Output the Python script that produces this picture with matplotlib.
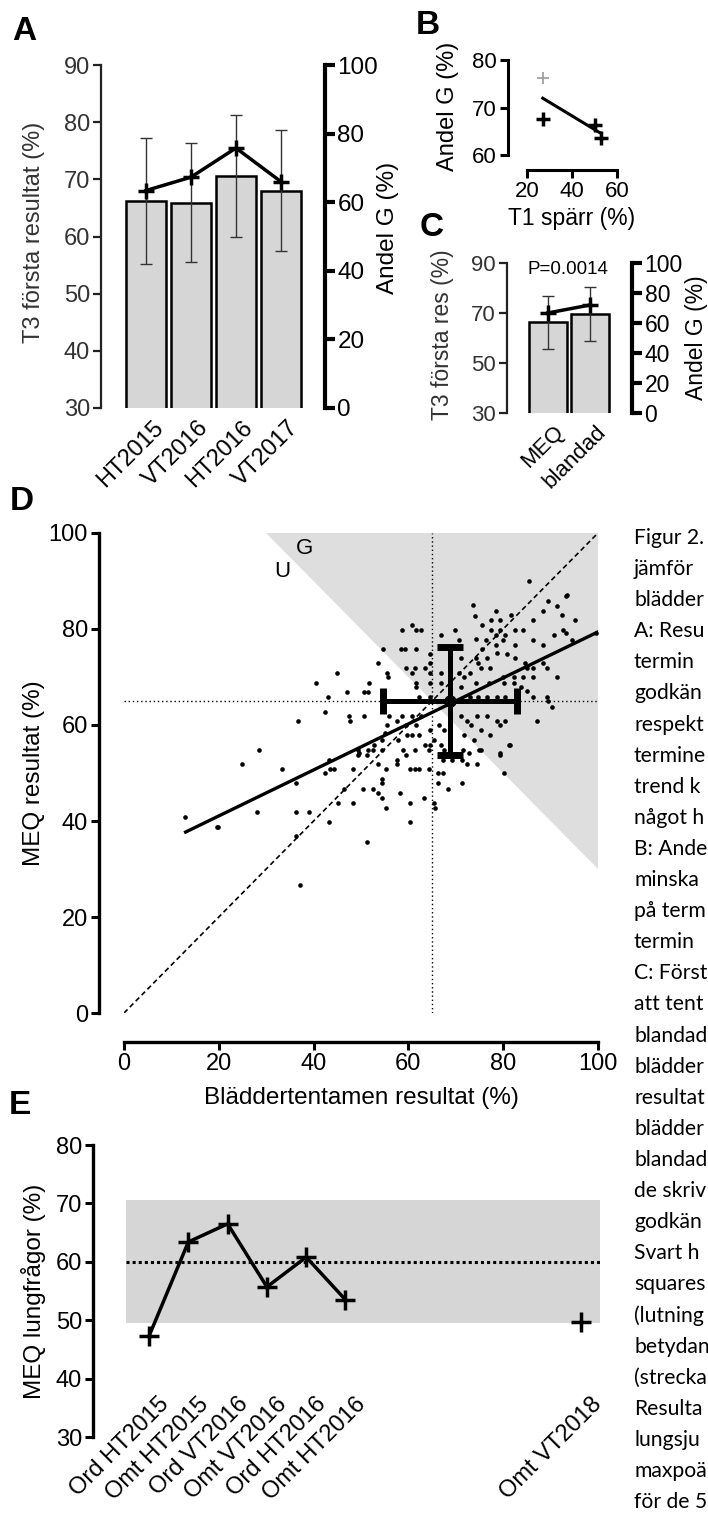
import numpy as np
import matplotlib
matplotlib.use('Agg')
import matplotlib.pyplot as plt
from matplotlib.transforms import ScaledTranslation

plt.rcParams['font.family'] = ['Liberation Sans', 'DejaVu Sans']

W, H = 708, 1526

# ---- A: T3 first results per term ----
terms_a = ['HT2015', 'VT2016', 'HT2016', 'VT2017']
t3_mean = [66.2, 65.9, 70.6, 68.0]
t3_sd = [11.0, 10.4, 10.7, 10.6]
andel_g_a = [63.4, 67.3, 75.8, 66.0]

# ---- B: share passed vs T1 block ----
t1_sparr = [53, 27, 27, 50]
andel_g_b = [63.6, 67.6, 76.2, 66.4]
b_grey = [False, False, True, False]

# ---- C: MEQ vs mixed exam ----
groups_c = ['MEQ', 'blandad']
c_mean = [66.4, 69.6]
c_sd = [10.6, 10.8]
andel_g_c = [66.7, 72.0]
p_text = 'P=0.0014'

# ---- D: MEQ vs open-book exam ----
bladder = [85.4, 73.6, 78.4, 74.0, 75.6, 77.5, 79.3, 81.6, 86.3, 88.5, 89.5, 91.4,
           92.3, 93.2, 90.7, 92.7, 93.2, 60.8, 58.7, 61.5, 62.7, 66.8, 69.9, 70.6,
           74.2, 76.3, 77.5, 78.4, 79.4, 80.0, 82.4, 84.2, 80.3, 86.3, 88.4, 82.4,
           78.5, 75.6, 54.7, 58.5, 59.2, 61.6, 64.6, 53.5, 64.6, 71.0, 74.2, 74.7,
           75.4, 76.5, 77.2, 78.6, 80.7, 82.5, 84.5, 85.1, 86.3, 88.4, 89.3, 91.4,
           59.4, 61.3, 63.5, 55.5, 55.6, 60.8, 64.5, 66.9, 70.6, 71.7, 73.1, 74.2,
           77.0, 80.0, 82.3, 84.2, 86.3, 80.1, 82.3, 83.7, 44.9, 40.6, 51.6, 61.5,
           61.7, 64.5, 66.9, 71.1, 47.0, 50.6, 51.5, 62.2, 64.6, 73.1, 74.7, 76.6,
           78.7, 80.3, 85.1, 86.3, 89.3, 89.5, 90.4, 43.0, 42.5, 36.8, 28.4, 47.4,
           47.7, 50.6, 55.9, 58.7, 60.8, 62.7, 57.6, 59.4, 61.5, 55.5, 64.5, 66.4,
           67.5, 71.0, 72.4, 73.2, 74.5, 76.6, 78.7, 80.3, 79.3, 87.2, 75.4, 77.3,
           71.7, 73.8, 57.9, 59.6, 60.8, 62.2, 64.6, 65.3, 66.8, 81.4, 74.9, 67.5,
           71.6, 72.8, 79.4, 54.4, 55.1, 52.7, 49.5, 51.5,
           24.8, 33.3, 12.9, 19.6, 19.9, 28.1, 36.3, 36.3, 39.1, 36.3, 37.1, 42.4,
           43.5, 44.3, 43.3, 43.3, 46.4, 45.2, 48.4, 48.4, 50.4, 52.5, 53.5, 54.4,
           51.3, 55.3, 55.3, 54.4, 54.4, 49.4, 49.4, 51.3, 52.5, 53.5, 54.4, 57.5,
           57.5, 58.2, 59.5, 60.3, 61.4, 62.3, 60.3, 60.3, 63.3, 64.4, 64.4, 63.6,
           65.4, 65.6, 66.3, 67.4, 66.3, 68.3, 71.4, 67.4, 69.3, 71.4, 72.3, 74.4,
           75.3, 79.3, 80.2, 81.3, 58.9, 61.4,
           93.5, 95.1, 94.5, 99.5]
meq = [89.9, 84.9, 83.8, 82.8, 80.9, 81.8, 81.8, 82.9, 81.9, 83.8, 85.9, 84.8,
       82.9, 86.8, 78.8, 79.8, 79.1, 80.9, 79.8, 79.8, 79.8, 78.8, 79.8, 77.7,
       77.9, 77.7, 79.8, 78.8, 79.8, 77.7, 79.8, 79.8, 78.8, 77.7, 76.7, 76.7,
       76.7, 75.8, 75.8, 75.8, 75.8, 75.8, 74.8, 72.9, 72.9, 73.9, 73.9, 72.9,
       71.8, 73.9, 71.8, 74.9, 74.7, 73.9, 72.9, 71.8, 71.8, 72.9, 71.8, 70.0,
       71.8, 71.8, 71.8, 70.8, 70.0, 70.8, 70.8, 70.8, 70.8, 70.0, 70.8, 68.8,
       68.8, 70.0, 70.0, 70.0, 70.0, 68.8, 68.8, 68.0, 70.8, 68.8, 68.8, 68.8,
       67.9, 68.8, 68.8, 68.0, 66.8, 66.8, 66.8, 65.9, 65.9, 65.9, 65.9, 65.9,
       65.9, 65.9, 67.0, 65.9, 65.9, 64.9, 63.8, 65.9, 62.8, 60.9, 54.8, 61.8,
       60.9, 61.8, 61.9, 61.8, 61.8, 61.8, 60.9, 59.9, 59.9, 59.9, 59.0, 59.9,
       59.0, 61.8, 60.9, 59.9, 61.8, 61.8, 60.9, 60.9, 59.9, 60.9, 59.0, 57.9,
       57.9, 56.9, 56.9, 57.9, 57.9, 57.9, 55.9, 56.9, 55.9, 55.9, 54.8, 54.8,
       54.8, 54.1, 54.1, 56.9, 58.3, 55.9, 54.1, 54.8,
       51.8, 50.8, 40.8, 38.7, 38.7, 41.8, 47.9, 41.8, 41.8, 36.8, 26.7, 50.0,
       50.8, 50.8, 52.7, 39.7, 46.7, 43.8, 50.8, 43.8, 46.7, 46.7, 45.8, 44.7,
       35.7, 50.8, 42.8, 48.7, 47.9, 54.8, 53.8, 53.8, 54.8, 51.8, 54.8, 52.7,
       51.8, 45.8, 53.8, 50.8, 50.8, 50.8, 43.8, 39.7, 44.7, 50.8, 54.8, 55.9,
       43.7, 42.7, 50.0, 50.0, 47.9, 46.7, 47.9, 52.7, 52.7, 52.7, 51.8, 51.8,
       54.8, 53.8, 50.0, 55.9, 54.8, 54.8,
       87.1, 81.9, 77.7, 79.2]
d_mean = (68.8, 65.0)
d_sd = (14.1, 11.2)
fit_x = [13.0, 100.0]
fit_y = [37.7, 79.4]
pass_level = 65

# ---- E: MEQ lung questions per exam ----
exams_e = ['Ord HT2015', 'Omt HT2015', 'Ord VT2016', 'Omt VT2016', 'Ord HT2016',
           'Omt HT2016', '', '', '', '', '', 'Omt VT2018']
lung_pct = [47.3, 63.4, 66.5, 55.7, 60.8, 53.5, np.nan, np.nan, np.nan, np.nan,
            np.nan, 49.7]
band_lo, band_hi, band_mid = 49.5, 70.5, 60.0

# caption column, only the part visible at the right edge
caption = ['Figur 2.', 'jämför', 'blädder', 'A: Resu', 'termin', 'godkän',
           'respekt', 'termine', 'trend k', 'något h', 'B: Ande', 'minska',
           'på term', 'termin', 'C: Först', 'att tent', 'blandad', 'blädder',
           'resultat', 'blädder', 'blandad', 'de skriv', 'godkän', 'Svart h',
           'squares', '(lutning', 'betydan', '(strecka', 'Resulta', 'lungsju',
           'maxpoä', 'för de 5']

GREY = '#d6d6d6'

fig = plt.figure(figsize=(W / 100, H / 100), dpi=100)


def add_ax(x0, y0, x1, y1):
    return fig.add_axes([x0 / W, 1 - y1 / H, (x1 - x0) / W, (y1 - y0) / H])


def ftext(x, y, s, **kw):
    return fig.text(x / W, 1 - y / H, s, **kw)


def shift_labels(ax, dx_px):
    off = ScaledTranslation(dx_px / 100, 0, fig.dpi_scale_trans)
    for lab in ax.get_xticklabels():
        lab.set_transform(lab.get_transform() + off)


def bar_panel(box, xlim, cats, mean, sd, andel, lticks, lsize, rsize, bw):
    ax = add_ax(*box)
    x = np.arange(len(cats))
    ax.bar(x, mean, width=bw, color=GREY, edgecolor='k', linewidth=1.8, zorder=2)
    ax.errorbar(x, mean, yerr=sd, fmt='none', ecolor='#333333', elinewidth=1,
                capsize=4.5, capthick=1, zorder=3)
    ax.set_xlim(*xlim)
    ax.set_ylim(lticks[0], lticks[-1])
    ax.set_yticks(lticks)
    for s in ['top', 'right', 'bottom']:
        ax.spines[s].set_visible(False)
    ax.spines['left'].set_linewidth(1.6)
    ax.spines['left'].set_color('#222222')
    ax.tick_params(axis='y', length=6, width=1.6, labelsize=lsize, pad=2,
                   color='#222222', labelcolor='#333333')
    ax.set_xticks(x)
    ax.set_xticklabels(cats, rotation=45, ha='right', va='top', rotation_mode='anchor')
    ax.tick_params(axis='x', length=0, labelsize=lsize, pad=6)
    ax.patch.set_alpha(0)
    ax2 = ax.twinx()
    ax2.plot(x, andel, color='k', lw=2.5, marker='+', ms=11, mew=2.5, zorder=4)
    ax2.set_ylim(0, 100)
    ax2.set_yticks(range(0, 101, 20))
    for s in ['top', 'left', 'bottom']:
        ax2.spines[s].set_visible(False)
    ax2.spines['right'].set_linewidth(3)
    ax2.tick_params(axis='y', length=7, width=3, labelsize=rsize, pad=2)
    return ax, ax2


# ---------- A ----------
axa, axa2 = bar_panel((101, 65, 325, 408), (-1.0, 3.98), terms_a, t3_mean, t3_sd,
                      andel_g_a, list(range(30, 91, 10)), 17, 17.5, 0.88)
shift_labels(axa, 6)
ftext(24, 31, 'A', fontsize=24, fontweight='bold', ha='center', va='center')
ftext(34, 232, 'T3 första resultat (%)', fontsize=17, rotation=90, ha='center', va='center', color='#333333')
ftext(388, 228, 'Andel G (%)', fontsize=17.5, rotation=90, ha='center', va='center')

# ---------- B ----------
axb = add_ax(527, 60, 617, 155)
axb.spines['left'].set_position(('outward', 19 * 0.72))
axb.spines['bottom'].set_position(('outward', 15 * 0.72))
axb.set_xlim(20, 60)
axb.set_ylim(60, 80)
for xv, yv, g in zip(t1_sparr, andel_g_b, b_grey):
    if g:
        axb.plot(xv, yv, marker='+', ms=9, mew=1.2, color='#9a9a9a', clip_on=False)
    else:
        axb.plot(xv, yv, marker='+', ms=10, mew=2.5, color='k', clip_on=False)
k, m = np.polyfit(t1_sparr, andel_g_b, 1)
xs = np.array([min(t1_sparr), max(t1_sparr)])
axb.plot(xs, k * xs + m, color='k', lw=2.2)
for s in ['top', 'right']:
    axb.spines[s].set_visible(False)
for s in ['left', 'bottom']:
    axb.spines[s].set_linewidth(2.2)
axb.set_xticks([20, 40, 60])
axb.set_yticks([60, 70, 80])
axb.tick_params(length=6, width=2.2, labelsize=16, pad=2)
axb.patch.set_alpha(0)
ftext(428, 26, 'B', fontsize=24, fontweight='bold', ha='center', va='center')
ftext(448, 106, 'Andel G (%)', fontsize=17, rotation=90, ha='center', va='center')
ftext(572, 219, 'T1 spärr (%)', fontsize=16.5, ha='center', va='center')

# ---------- C ----------
axc, axc2 = bar_panel((507, 263, 632, 413), (-0.976, 2.0), groups_c, c_mean, c_sd,
                      andel_g_c, [30, 50, 70, 90], 16, 16.5, 0.9)
shift_labels(axc, 5)
ftext(432, 228, 'C', fontsize=24, fontweight='bold', ha='center', va='center')
ftext(443, 335, 'T3 första res (%)', fontsize=16.5, rotation=90, ha='center', va='center', color='#333333')
ftext(697, 338, 'Andel G (%)', fontsize=16.5, rotation=90, ha='center', va='center')
ftext(568, 270, p_text, fontsize=13.5, ha='center', va='center')

# ---------- D ----------
axd = add_ax(124, 533, 598, 1013)
axd.spines['left'].set_position(('outward', 25 * 0.72))
axd.spines['bottom'].set_position(('outward', 29 * 0.72))
axd.set_xlim(0, 100)
axd.set_ylim(0, 100)
thr = 2 * pass_level
axd.fill([thr - 100, 100, 100], [100, 100, thr - 100], color='#dedede', lw=0, zorder=0)
axd.axhline(pass_level, color='k', lw=1, ls=(0, (1, 2)), zorder=1)
axd.axvline(pass_level, color='k', lw=1, ls=(0, (1, 2)), zorder=1)
axd.plot([0, 100], [0, 100], color='k', lw=1.2, ls=(0, (3, 2)), zorder=1)
axd.scatter(bladder, meq, s=11, c='k', lw=0, zorder=2)
axd.plot(fit_x, fit_y, color='k', lw=2.4, zorder=3)
axd.errorbar(d_mean[0], d_mean[1], xerr=d_sd[0], yerr=d_sd[1], fmt='o', color='k',
             ms=8, elinewidth=3.6, capsize=9.5, capthick=5, zorder=4)
axd.text(38, 96.7, 'G', fontsize=16, ha='center', va='center')
axd.text(33.4, 92, 'U', fontsize=16, ha='center', va='center')
for s in ['top', 'right']:
    axd.spines[s].set_visible(False)
for s in ['left', 'bottom']:
    axd.spines[s].set_linewidth(2.4)
axd.set_xticks(range(0, 101, 20))
axd.set_yticks(range(0, 101, 20))
axd.tick_params(length=6, width=2.2, labelsize=17, pad=2)
axd.patch.set_alpha(0)
ftext(22, 502, 'D', fontsize=24, fontweight='bold', ha='center', va='center')
ftext(34, 773, 'MEQ resultat (%)', fontsize=17.5, rotation=90, ha='center', va='center')
ftext(361, 1098, 'Bläddertentamen resultat (%)', fontsize=17.5, ha='center', va='center')

# ---------- E ----------
axe = add_ax(125.5, 1145, 600, 1437)
# spine positions first: moving a spine resets its tick labels
axe.spines['bottom'].set_position(('data', 38))
axe.spines['left'].set_position(('outward', 32.5 * 0.72))
xe = np.arange(len(exams_e))
axe.set_xlim(-0.6, 11.48)
axe.set_ylim(30, 80)
axe.axhspan(band_lo, band_hi, color=GREY, lw=0, zorder=0)
axe.axhline(band_mid, color='k', lw=2.2, ls=(0, (1, 1)), zorder=1)
axe.plot(xe, lung_pct, color='k', lw=2.5, marker='+', ms=14, mew=2.5, zorder=3)
shown = [i for i, t in enumerate(exams_e) if t]
axe.set_xticks(shown)
axe.set_xticklabels([exams_e[i] for i in shown], rotation=45, ha='right', va='top',
                    rotation_mode='anchor')
axe.spines['bottom'].set_visible(False)
axe.spines['top'].set_visible(False)
axe.spines['right'].set_visible(False)
axe.spines['left'].set_linewidth(2.4)
axe.set_yticks(range(30, 81, 10))
axe.tick_params(axis='y', length=6, width=2.2, labelsize=17, pad=2)
axe.tick_params(axis='x', length=0, labelsize=17, pad=2)
shift_labels(axe, 9)
axe.patch.set_alpha(0)
ftext(20, 1105, 'E', fontsize=24, fontweight='bold', ha='center', va='center')
ftext(34, 1291, 'MEQ lungfrågor (%)', fontsize=17.5, rotation=90, ha='center', va='center')

# ---------- caption ----------
for i, line in enumerate(caption):
    ftext(634, 538 + i * 31.1, line, fontsize=15.2, ha='left', va='center',
          family=['Lato', 'DejaVu Sans'])

fig.savefig('out.png', dpi=100)
